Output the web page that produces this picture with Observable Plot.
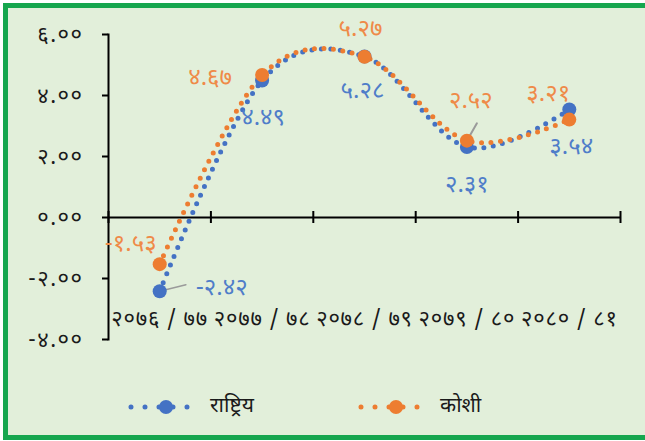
<!DOCTYPE html>
<html>
<head>
<meta charset="utf-8">
<script src="https://cdn.jsdelivr.net/npm/d3@7"></script>
<script src="https://cdn.jsdelivr.net/npm/@observablehq/plot@0.6"></script>
<style>
  html, body { margin: 0; padding: 0; background: #ffffff; overflow: hidden; }
  #page { position: relative; width: 645px; height: 441px; overflow: hidden; }
  #frame {
    position: absolute; left: 3px; top: 3px; width: 660px; height: 427px;
    border: 5px solid #16a64e; border-right: none; background: #e2efda;
  }
  #chart { position: absolute; left: 0; top: 0; }
  .spaced text { letter-spacing: 1.5px; }
  .cats text { letter-spacing: 0.8px; }
  .legend-item { position: absolute; display: flex; align-items: center; font-family: "Noto Sans Devanagari", "Noto Sans", sans-serif; font-size: 21px; color: #1a1a1a; }
  .legend-item svg { margin-right: 8px; }
</style>
</head>
<body>
<div id="page">
<div id="frame"></div>
<div id="chart"></div>
<div id="legend"></div>
</div>
<script>
const categories = ["२०७६ / ७७", "२०७७ / ७८", "२०७८ / ७९", "२०७९ / ८०", "२०८० / ८१"];
const national = [-2.42, 4.49, 5.28, 2.31, 3.54];
const koshi = [-1.53, 4.67, 5.27, 2.52, 3.21];
const seriesNames = ["राष्ट्रिय", "कोशी"];
const yTicks = [-4, -2, 0, 2, 4, 6];

const colors = {"राष्ट्रिय": "#4472c4", "कोशी": "#ed7d31"};
const labelColors = {"राष्ट्रिय": "#4f7dc9", "कोशी": "#ef8a48"};
const FONT = '"Noto Sans Devanagari", "Noto Sans", sans-serif';

const devDigits = "०१२३४५६७८९";
const toDev = s => String(s).replace(/[0-9]/g, d => devDigits[+d]);
const fmt = v => toDev(v.toFixed(2));

const rows = [];
categories.forEach((c, i) => {
  rows.push({i, cat: c, value: national[i], series: seriesNames[0]});
});
categories.forEach((c, i) => {
  rows.push({i, cat: c, value: koshi[i], series: seriesNames[1]});
});
const nat = rows.filter(d => d.series === seriesNames[0]);
const kos = rows.filter(d => d.series === seriesNames[1]);
const boundaries = d3.range(categories.length + 1).map(k => k - 0.5);

// label placement (pixel offsets) per series and point
const natOffsets = [[62, -4], [1, 37], [-2, 34], [0, 37], [2, 37]];
const kosOffsets = [[-29, -21], [-52, 2], [-4, -28], [4, -40], [-21, -26]];

function labelMarks(data, offsets, series) {
  return data.map((d, k) => Plot.text([d], {
    x: "i", y: "value", text: r => fmt(r.value),
    dx: offsets[k][0], dy: offsets[k][1],
    fill: labelColors[series], fontSize: 24, fontFamily: FONT
  }));
}

const lineShape = {
  draw(context, l) { context.moveTo(0, 0); context.lineTo(0, -l); }
};

const chart = Plot.plot({
  width: 645, height: 380,
  marginLeft: 108, marginRight: 25, marginTop: 34, marginBottom: 41,
  style: {background: "transparent", fontFamily: FONT, fontSize: "16px", color: "#1a1a1a"},
  x: {type: "linear", domain: [-0.5, categories.length - 0.5], axis: null, label: null},
  y: {domain: [-4, 6], axis: null, label: null},
  marks: [
    Plot.axisY({ticks: yTicks, tickFormat: fmt, tickSize: 6, tickPadding: 19, fontSize: 22, strokeWidth: 2, stroke: "#000", fill: "#1a1a1a", label: null, className: "spaced"}),
    Plot.axisX({ticks: d3.range(categories.length), tickFormat: i => categories[i], tickSize: 0, tickPadding: 0, anchor: "bottom", dy: -29, fontSize: 22, fill: "#1a1a1a", label: null, className: "cats"}),
    Plot.frame({anchor: "left", stroke: "#000", strokeWidth: 2}),
    Plot.ruleY([0], {stroke: "#000", strokeWidth: 2}),
    Plot.ruleX(boundaries, {x: d => d, y1: 0, y2: 0, insetTop: -6, insetBottom: -6, stroke: "#000", strokeWidth: 2}),
    Plot.line(nat, {x: "i", y: "value", curve: "cardinal", stroke: colors[seriesNames[0]], strokeWidth: 5, strokeDasharray: "0 9.5", strokeLinecap: "round"}),
    Plot.line(kos, {x: "i", y: "value", curve: "cardinal", stroke: colors[seriesNames[1]], strokeWidth: 5, strokeDasharray: "0 9.5", strokeLinecap: "round"}),
    Plot.vector([nat[0]], {x: "i", y: "value", length: 27, rotate: 76, anchor: "start", shape: lineShape, stroke: "#9a9a9a", strokeWidth: 1.5}),
    Plot.vector([kos[3]], {x: "i", y: "value", length: 20, rotate: 30, anchor: "start", shape: lineShape, stroke: "#9a9a9a", strokeWidth: 2}),
    Plot.dot(nat, {x: "i", y: "value", r: 7, fill: colors[seriesNames[0]]}),
    Plot.dot(kos, {x: "i", y: "value", r: 7, fill: colors[seriesNames[1]]}),
    ...labelMarks(nat, natOffsets, seriesNames[0]),
    ...labelMarks(kos, kosOffsets, seriesNames[1])
  ]
});
document.getElementById("chart").appendChild(chart);

// legend
const legend = document.getElementById("legend");
const legendPos = [[128, 393], [358, 393]];
seriesNames.forEach((name, k) => {
  const item = document.createElement("div");
  item.className = "legend-item";
  item.style.left = legendPos[k][0] + "px";
  item.style.top = legendPos[k][1] + "px";
  const svg = d3.create("svg").attr("width", 74).attr("height", 24);
  svg.append("line").attr("x1", 3).attr("x2", 71).attr("y1", 12).attr("y2", 12)
    .attr("stroke", colors[name]).attr("stroke-width", 5).attr("stroke-linecap", "round").attr("stroke-dasharray", "0 14");
  svg.append("circle").attr("cx", 38).attr("cy", 12).attr("r", 7).attr("fill", colors[name]);
  item.appendChild(svg.node());
  const t = document.createElement("span");
  t.textContent = name;
  item.appendChild(t);
  legend.appendChild(item);
});
</script>
</body>
</html>
